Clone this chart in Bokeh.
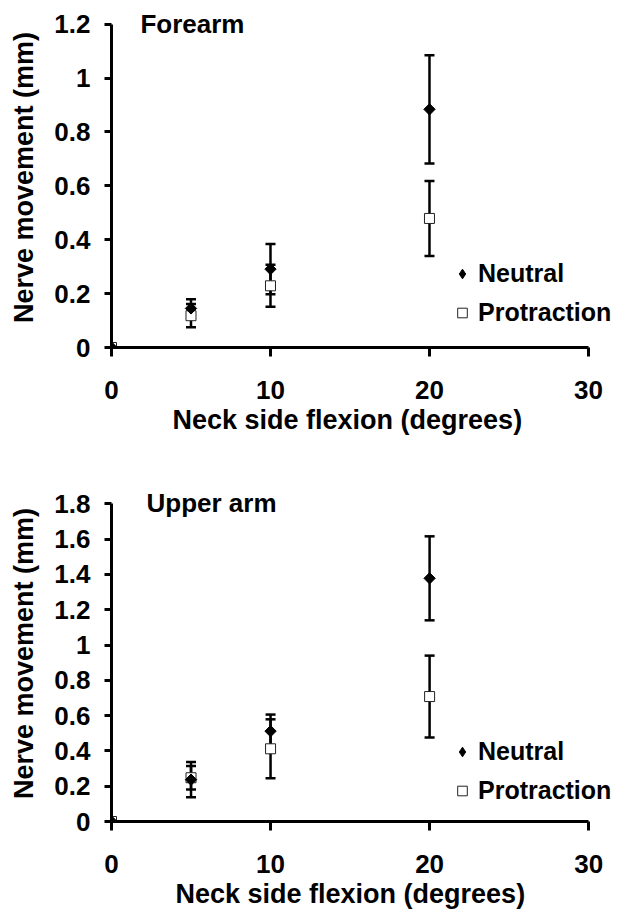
from bokeh.plotting import figure
from bokeh.models import Range1d, FixedTicker, Label, Legend, LegendItem, Title
from bokeh.layouts import column
from bokeh.embed import file_html
from bokeh.resources import INLINE
import math

# ---------------- data ----------------
flexion_deg = [0, 5, 10, 20]
x_ticks = [0, 10, 20, 30]
x_tick_labels = ["0", "10", "20", "30"]

forearm_neutral = [0, 0.145, 0.291, 0.884]
forearm_neutral_err = [0, 0.034, 0.093, 0.201]
forearm_protraction = [0, 0.118, 0.229, 0.479]
forearm_protraction_err = [0, 0.043, 0.078, 0.139]
forearm_y_ticks = [0, 0.2, 0.4, 0.6, 0.8, 1.0, 1.2]
forearm_y_tick_labels = ["0", "0.2", "0.4", "0.6", "0.8", "1", "1.2"]

upper_neutral = [0, 0.237, 0.512, 1.378]
upper_neutral_err = [0, 0.100, 0.094, 0.238]
upper_protraction = [0, 0.248, 0.412, 0.708]
upper_protraction_err = [0, 0.066, 0.167, 0.232]
upper_y_ticks = [0, 0.2, 0.4, 0.6, 0.8, 1.0, 1.2, 1.4, 1.6, 1.8]
upper_y_tick_labels = ["0", "0.2", "0.4", "0.6", "0.8", "1", "1.2", "1.4", "1.6", "1.8"]

series_labels = ["Neutral", "Protraction"]
panel_titles = ["Forearm", "Upper arm"]
x_title = "Neck side flexion (degrees)"
y_title = "Nerve movement (mm)"

FONT = "Liberation Sans"
X_MAX = 30


def make_panel(title, neutral, neutral_err, protr, protr_err, y_ticks, y_tick_labels,
               y_max, y_end, x_end, frame_width, frame_height, mb_top, mb_left, mb_right,
               x_std, y_title_std, xtitle_offset, xtitle_standoff, title_pos, legend_loc):
    p = figure(frame_width=frame_width, frame_height=frame_height,
               x_range=Range1d(0, x_end), y_range=Range1d(0, y_end),
               output_backend="svg", toolbar_location=None,
               min_border_top=mb_top, min_border_left=mb_left,
               min_border_right=mb_right, min_border_bottom=0,
               y_axis_label=y_title)
    p.background_fill_color = "white"
    p.border_fill_color = "white"
    p.outline_line_color = None
    p.xgrid.visible = False
    p.ygrid.visible = False

    # error bars
    for vals, errs in ((protr, protr_err), (neutral, neutral_err)):
        xs = [x for x, e in zip(flexion_deg, errs) if e > 0]
        lo = [v - e for v, e in zip(vals, errs) if e > 0]
        hi = [v + e for v, e in zip(vals, errs) if e > 0]
        p.segment(x0=xs, y0=lo, x1=xs, y1=hi, line_color="black", line_width=2.5)
        p.scatter(x=xs + xs, y=lo + hi, marker="dash", size=10,
                  line_color="black", line_width=2.5)

    rp = p.scatter(flexion_deg, protr, marker="square", size=10,
                   fill_color="white", line_color="#222222", line_width=1)
    # diamond used by the legend (hidden below the rotated square in the plot)
    rn_leg = p.scatter(flexion_deg, neutral, marker="diamond", size=11,
                       fill_color="black", line_color="black", line_width=1)
    p.scatter(flexion_deg, neutral, marker="square", angle=math.pi / 4, size=8,
              fill_color="black", line_color="black", line_width=1)

    xa = p.xaxis[0]
    ya = p.yaxis[0]
    xa.bounds = (0, X_MAX)
    ya.bounds = (0, y_max)
    xa.ticker = FixedTicker(ticks=x_ticks)
    ya.ticker = FixedTicker(ticks=y_ticks)
    xa.major_label_overrides = dict(zip(x_ticks, x_tick_labels))
    ya.major_label_overrides = dict(zip(y_ticks, y_tick_labels))
    for ax in (xa, ya):
        ax.axis_line_width = 3
        ax.axis_line_color = "black"
        ax.major_tick_line_width = 3
        ax.major_tick_line_color = "black"
        ax.minor_tick_line_color = None
        ax.major_tick_in = 0
        ax.major_label_text_font = FONT
        ax.major_label_text_font_style = "bold"
        ax.major_label_text_font_size = "26px"
        ax.major_label_text_color = "black"
        ax.axis_label_text_font = FONT
        ax.axis_label_text_font_style = "bold"
        ax.axis_label_text_font_size = "27px"
        ax.axis_label_text_color = "black"
    xa.major_tick_out = 9
    ya.major_tick_out = 7
    xa.major_label_standoff = x_std
    ya.major_label_standoff = 14
    ya.axis_label_standoff = y_title_std

    p.add_layout(Title(text=x_title, align="left", offset=xtitle_offset,
                       standoff=xtitle_standoff, text_font=FONT,
                       text_font_style="bold", text_font_size="27px",
                       text_color="black"), "below")

    p.add_layout(Label(x=title_pos[0], y=title_pos[1], text=title,
                       text_font=FONT, text_font_style="bold",
                       text_font_size="26px", text_color="black",
                       text_baseline="alphabetic"))

    leg = Legend(items=[LegendItem(label=series_labels[0], renderers=[rn_leg]),
                        LegendItem(label=series_labels[1], renderers=[rp])],
                 location=legend_loc, orientation="vertical",
                 border_line_color=None, background_fill_alpha=0,
                 padding=0, margin=0, spacing=10,
                 glyph_width=24, glyph_height=29, label_height=29,
                 label_standoff=4, label_text_font=FONT,
                 label_text_font_style="bold", label_text_font_size="25px",
                 label_text_color="black")
    p.add_layout(leg)
    return p


p1 = make_panel(panel_titles[0], forearm_neutral, forearm_neutral_err,
                forearm_protraction, forearm_protraction_err,
                forearm_y_ticks, forearm_y_tick_labels,
                y_max=1.2, y_end=1.262, x_end=31.7, frame_width=504, frame_height=340,
                mb_top=7, mb_left=111, mb_right=1,
                x_std=24, y_title_std=12, xtitle_offset=61, xtitle_standoff=2,
                title_pos=(1.82, 1.202), legend_loc=(339, 20))

p2 = make_panel(panel_titles[1], upper_neutral, upper_neutral_err,
                upper_protraction, upper_protraction_err,
                upper_y_ticks, upper_y_tick_labels,
                y_max=1.8, y_end=1.904, x_end=31.5, frame_width=501, frame_height=336,
                mb_top=50, mb_left=111, mb_right=1,
                x_std=24, y_title_std=12, xtitle_offset=64, xtitle_standoff=2,
                title_pos=(2.2, 1.806), legend_loc=(339, 16))

layout = column(p1, p2)
open("out.html", "w").write(file_html(layout, INLINE))
